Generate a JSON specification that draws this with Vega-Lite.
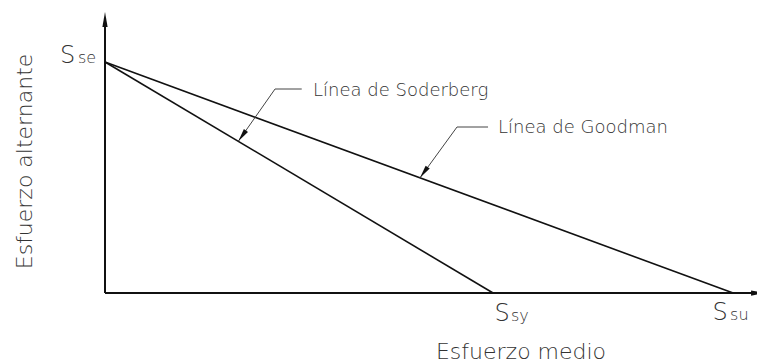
{
  "$schema": "https://vega.github.io/schema/vega-lite/v6.json",
  "width": 652,
  "height": 281,
  "autosize": {"type": "none"},
  "padding": {"left": 105, "top": 12, "right": 0, "bottom": 70},
  "background": "white",
  "config": {"view": {"stroke": null}},
  "datasets": {
    "axes": [
      {"id": "x", "x": 0, "y": 0},
      {"id": "x", "x": 10.45, "y": 0},
      {"id": "y", "x": 0, "y": 0},
      {"id": "y", "x": 0, "y": 4.3}
    ],
    "axisTipsUp": [{"x": 0, "y": 4.474}],
    "axisTipsRight": [{"x": 10.524, "y": 0}],
    "lines": [
      {"id": "Goodman", "x": 0, "y": 3.678},
      {"id": "Goodman", "x": 10, "y": 0},
      {"id": "Soderberg", "x": 0, "y": 3.678},
      {"id": "Soderberg", "x": 6.178, "y": 0}
    ],
    "leaders": [
      {"id": "Soderberg", "x": 3.132, "y": 3.248},
      {"id": "Soderberg", "x": 2.707, "y": 3.248},
      {"id": "Soderberg", "x": 2.122, "y": 2.415},
      {"id": "Goodman", "x": 6.098, "y": 2.643},
      {"id": "Goodman", "x": 5.604, "y": 2.643},
      {"id": "Goodman", "x": 5.015, "y": 1.833}
    ],
    "leaderTips": [
      {"id": "Soderberg", "x": 2.122, "y": 2.415},
      {"id": "Goodman", "x": 5.015, "y": 1.833}
    ],
    "texts": [
      {"role": "big", "t": "S", "x": -0.716, "y": 3.662},
      {"role": "sub", "t": "se", "x": -0.43, "y": 3.662},
      {"role": "big", "t": "S", "x": 6.2, "y": -0.446},
      {"role": "sub", "t": "sy", "x": 6.464, "y": -0.446},
      {"role": "big", "t": "S", "x": 9.67, "y": -0.43},
      {"role": "sub", "t": "su", "x": 9.951, "y": -0.43}
    ],
    "notes": [
      {"role": "note", "t": "Línea de Soderberg", "x": 3.312, "y": 3.137},
      {"role": "note", "t": "Línea de Goodman", "x": 6.258, "y": 2.548},
      {"role": "title", "t": "Esfuerzo medio", "x": 6.623, "y": -1.055},
      {"role": "ytitle", "t": "Esfuerzo alternante", "x": -1.162, "y": 2.094}
    ]
  },
  "encoding": {
    "x": {"field": "x", "type": "quantitative", "scale": {"domain": [0, 10.38], "nice": false, "zero": false}, "axis": null},
    "y": {"field": "y", "type": "quantitative", "scale": {"domain": [0, 4.474], "nice": false, "zero": false}, "axis": null}
  },
  "layer": [
    {
      "data": {"name": "axes"},
      "mark": {"type": "line", "color": "#111", "strokeWidth": 2},
      "encoding": {"detail": {"field": "id", "type": "nominal"}}
    },
    {
      "data": {"name": "axisTipsUp"},
      "mark": {"type": "point", "shape": "M0,0L-0.35,2L0.35,2Z", "size": 225, "filled": true, "opacity": 1, "color": "#111", "strokeWidth": 0},
      "encoding": {}
    },
    {
      "data": {"name": "axisTipsRight"},
      "mark": {"type": "point", "shape": "M0,0L-0.35,2L0.35,2Z", "angle": 90, "size": 225, "filled": true, "opacity": 1, "color": "#111", "strokeWidth": 0},
      "encoding": {}
    },
    {
      "data": {"name": "lines"},
      "mark": {"type": "line", "color": "#111", "strokeWidth": 1.6},
      "encoding": {"detail": {"field": "id", "type": "nominal"}}
    },
    {
      "data": {"name": "leaders"},
      "mark": {"type": "line", "color": "#444", "strokeWidth": 1},
      "encoding": {"detail": {"field": "id", "type": "nominal"}}
    },
    {
      "data": {"name": "leaderTips"},
      "mark": {"type": "point", "shape": "M0,0L-0.42,-2.2L0.42,-2.2Z", "angle": 35.5, "size": 144, "filled": true, "opacity": 1, "color": "#111", "strokeWidth": 0},
      "encoding": {}
    },
    {
      "data": {"name": "texts"},
      "transform": [{"filter": "datum.role === 'big'"}],
      "mark": {"type": "text", "align": "left", "baseline": "alphabetic", "font": "DejaVu Sans", "fontWeight": 200, "fontSize": 24, "color": "#333"},
      "encoding": {"text": {"field": "t"}}
    },
    {
      "data": {"name": "texts"},
      "transform": [{"filter": "datum.role === 'sub'"}],
      "mark": {"type": "text", "align": "left", "baseline": "alphabetic", "font": "DejaVu Sans", "fontWeight": 200, "fontSize": 16, "color": "#333"},
      "encoding": {"text": {"field": "t"}}
    },
    {
      "data": {"name": "notes"},
      "transform": [{"filter": "datum.role === 'note'"}],
      "mark": {"type": "text", "align": "left", "baseline": "alphabetic", "font": "DejaVu Sans", "fontWeight": 200, "fontSize": 18, "color": "#333"},
      "encoding": {"text": {"field": "t"}}
    },
    {
      "data": {"name": "notes"},
      "transform": [{"filter": "datum.role === 'title'"}],
      "mark": {"type": "text", "align": "center", "baseline": "alphabetic", "font": "DejaVu Sans", "fontWeight": 200, "fontSize": 22, "color": "#333"},
      "encoding": {"text": {"field": "t"}}
    },
    {
      "data": {"name": "notes"},
      "transform": [{"filter": "datum.role === 'ytitle'"}],
      "mark": {"type": "text", "align": "center", "baseline": "alphabetic", "angle": 270, "font": "DejaVu Sans", "fontWeight": 200, "fontSize": 22, "color": "#333"},
      "encoding": {"text": {"field": "t"}}
    }
  ]
}
